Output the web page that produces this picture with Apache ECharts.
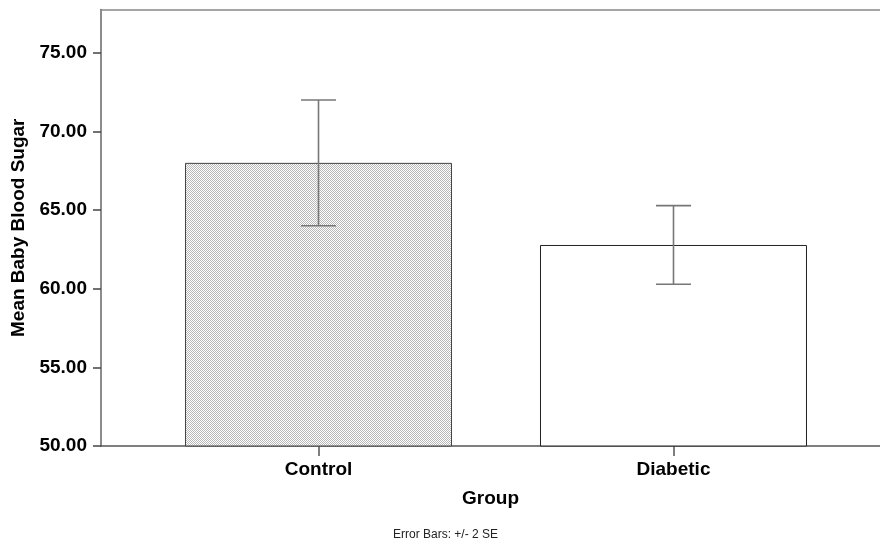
<!DOCTYPE html>
<html>
<head>
<meta charset="utf-8">
<script src="https://cdn.jsdelivr.net/npm/echarts@6/dist/echarts.min.js"></script>
<style>
  html, body { margin: 0; padding: 0; background: #fff; }
  #chart { width: 880px; height: 544px; }
</style>
</head>
<body>
<div id="chart"></div>
<script>
// data
const groups = ['Control', 'Diabetic'];
const means = [68.0, 62.78];
const errLow = [64.0, 60.28];
const errHigh = [72.0, 65.28];
const yTicks = [50, 55, 60, 65, 70, 75];

// fine dotted fill like the SPSS pattern
function makePattern() {
    const c = document.createElement('canvas');
    c.width = 2; c.height = 2;
    const ctx = c.getContext('2d');
    ctx.fillStyle = '#ffffff';
    ctx.fillRect(0, 0, 2, 2);
    ctx.fillStyle = '#b8b8b8';
    ctx.fillRect(0, 0, 1, 1);
    ctx.fillRect(1, 1, 1, 1);
    return c;
}

const font = 'Liberation Sans, Arial, sans-serif';
const chart = echarts.init(document.getElementById('chart'));

const barData = groups.map((g, i) => ({
    value: [i, means[i]],
    itemStyle: i === 0
        ? { color: { image: makePattern(), repeat: 'repeat' }, borderColor: '#444', borderWidth: 1 }
        : { color: '#ffffff', borderColor: '#222', borderWidth: 1 }
}));
const errData = groups.map((g, i) => [i, errLow[i], errHigh[i]]);

chart.setOption({
    animation: false,
    backgroundColor: '#fff',
    title: {
        text: 'Error Bars: +/- 2 SE',
        left: 388,
        top: 524,
        textStyle: { fontFamily: font, fontSize: 12, fontWeight: 'normal', color: '#222' }
    },
    grid: { left: 101, right: -2, top: 9.5, bottom: 98 },
    xAxis: [{
        type: 'value',
        min: -0.6127,
        max: 1.5817,
        name: 'Group',
        nameLocation: 'middle',
        nameGap: 43,
        nameTextStyle: { fontFamily: font, fontSize: 19, fontWeight: 'bold', color: '#000' },
        axisLine: { show: true, onZero: false, lineStyle: { color: '#555', width: 1.5 } },
        axisTick: { show: true, length: 10, lineStyle: { color: '#555', width: 1.5 }, customValues: [0, 1] },
        axisLabel: {
            margin: 14,
            customValues: [0, 1],
            formatter: v => groups[Math.round(v)],
            fontFamily: font, fontSize: 19, fontWeight: 'bold', color: '#000'
        },
        splitLine: { show: false }
    }, {
        type: 'value',
        position: 'top',
        min: 0, max: 1,
        axisLine: { show: true, onZero: false, lineStyle: { color: '#888', width: 1.5 } },
        axisTick: { show: false },
        axisLabel: { show: false },
        splitLine: { show: false }
    }],
    yAxis: {
        type: 'value',
        min: 50,
        max: 77.75,
        interval: 5,
        name: 'Mean Baby Blood Sugar',
        nameLocation: 'middle',
        nameGap: 72,
        nameTextStyle: { fontFamily: font, fontSize: 19, fontWeight: 'bold', color: '#000' },
        axisLine: { show: true, onZero: false, lineStyle: { color: '#666', width: 1.5 } },
        axisTick: { show: true, length: 8, lineStyle: { color: '#444', width: 1.5 }, customValues: yTicks },
        axisLabel: {
            margin: 14,
            customValues: yTicks,
            formatter: v => v.toFixed(2),
            fontFamily: font, fontSize: 19, fontWeight: 'bold', color: '#000'
        },
        splitLine: { show: false }
    },
    series: [{
        type: 'bar',
        barWidth: 267,
        data: barData
    }, {
        type: 'custom',
        z: 5,
        data: errData,
        renderItem: function (params, api) {
            const x = api.value(0);
            const lo = api.coord([x, api.value(1)]);
            const hi = api.coord([x, api.value(2)]);
            const half = 17.5;
            const style = { stroke: '#777', lineWidth: 1.6 };
            return {
                type: 'group',
                children: [
                    { type: 'line', shape: { x1: lo[0], y1: lo[1], x2: hi[0], y2: hi[1] }, style: style },
                    { type: 'line', shape: { x1: hi[0] - half, y1: hi[1], x2: hi[0] + half, y2: hi[1] }, style: style },
                    { type: 'line', shape: { x1: lo[0] - half, y1: lo[1], x2: lo[0] + half, y2: lo[1] }, style: style }
                ]
            };
        }
    }]
});
</script>
</body>
</html>
